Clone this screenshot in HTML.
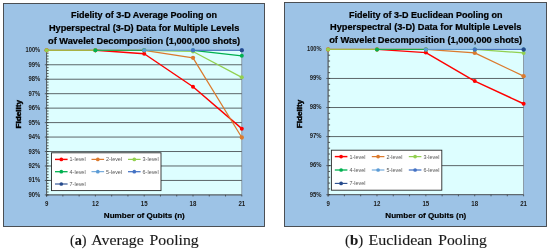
<!DOCTYPE html>
<html><head><meta charset="utf-8"><title>Fidelity charts</title>
<style>
html,body{margin:0;padding:0;background:#fff;}
svg{display:block;}
text{font-family:"Liberation Sans",sans-serif;}
svg{will-change:transform;}
.ti{font-weight:bold;font-size:8.9px;fill:#000;stroke:#000;stroke-width:0.22px;}
.at{font-weight:bold;font-size:7.7px;fill:#000;stroke:#000;stroke-width:0.18px;}
.ax{font-weight:bold;font-size:6.4px;fill:#1c1c1c;}
.lg{font-size:5.4px;fill:#555;}
.cap{font-family:"Liberation Serif",serif;font-size:14.4px;fill:#1a1a1a;stroke:#1a1a1a;stroke-width:0.12px;}
</style></head><body>
<svg width="550" height="252" viewBox="0 0 550 252">
<rect x="0" y="0" width="550" height="252" fill="#FFFFFF"/>
<rect x="3.5" y="3.5" width="261" height="223" fill="#9DC3E6" stroke="#45484c" stroke-width="0.95"/>
<rect x="46.6" y="50.3" width="195.20000000000002" height="144.60000000000002" fill="#DDFEFF" stroke="#7F8A94" stroke-width="0.8"/>
<line x1="44.800000000000004" y1="64.76" x2="241.8" y2="64.76" stroke="#4D5558" stroke-width="0.9"/>
<line x1="44.800000000000004" y1="79.22" x2="241.8" y2="79.22" stroke="#4D5558" stroke-width="0.9"/>
<line x1="44.800000000000004" y1="93.68" x2="241.8" y2="93.68" stroke="#4D5558" stroke-width="0.9"/>
<line x1="44.800000000000004" y1="108.14" x2="241.8" y2="108.14" stroke="#4D5558" stroke-width="0.9"/>
<line x1="44.800000000000004" y1="122.60" x2="241.8" y2="122.60" stroke="#4D5558" stroke-width="0.9"/>
<line x1="44.800000000000004" y1="137.06" x2="241.8" y2="137.06" stroke="#4D5558" stroke-width="0.9"/>
<line x1="44.800000000000004" y1="151.52" x2="241.8" y2="151.52" stroke="#4D5558" stroke-width="0.9"/>
<line x1="44.800000000000004" y1="165.98" x2="241.8" y2="165.98" stroke="#4D5558" stroke-width="0.9"/>
<line x1="44.800000000000004" y1="180.44" x2="241.8" y2="180.44" stroke="#4D5558" stroke-width="0.9"/>
<line x1="44.800000000000004" y1="194.90" x2="241.8" y2="194.90" stroke="#4D5558" stroke-width="0.9"/>
<line x1="46.6" y1="50.30" x2="48.6" y2="50.30" stroke="#222" stroke-width="0.75"/>
<line x1="46.6" y1="53.19" x2="48.6" y2="53.19" stroke="#222" stroke-width="0.75"/>
<line x1="46.6" y1="56.08" x2="48.6" y2="56.08" stroke="#222" stroke-width="0.75"/>
<line x1="46.6" y1="58.98" x2="48.6" y2="58.98" stroke="#222" stroke-width="0.75"/>
<line x1="46.6" y1="61.87" x2="48.6" y2="61.87" stroke="#222" stroke-width="0.75"/>
<line x1="46.6" y1="64.76" x2="48.6" y2="64.76" stroke="#222" stroke-width="0.75"/>
<line x1="46.6" y1="67.65" x2="48.6" y2="67.65" stroke="#222" stroke-width="0.75"/>
<line x1="46.6" y1="70.54" x2="48.6" y2="70.54" stroke="#222" stroke-width="0.75"/>
<line x1="46.6" y1="73.44" x2="48.6" y2="73.44" stroke="#222" stroke-width="0.75"/>
<line x1="46.6" y1="76.33" x2="48.6" y2="76.33" stroke="#222" stroke-width="0.75"/>
<line x1="46.6" y1="79.22" x2="48.6" y2="79.22" stroke="#222" stroke-width="0.75"/>
<line x1="46.6" y1="82.11" x2="48.6" y2="82.11" stroke="#222" stroke-width="0.75"/>
<line x1="46.6" y1="85.00" x2="48.6" y2="85.00" stroke="#222" stroke-width="0.75"/>
<line x1="46.6" y1="87.90" x2="48.6" y2="87.90" stroke="#222" stroke-width="0.75"/>
<line x1="46.6" y1="90.79" x2="48.6" y2="90.79" stroke="#222" stroke-width="0.75"/>
<line x1="46.6" y1="93.68" x2="48.6" y2="93.68" stroke="#222" stroke-width="0.75"/>
<line x1="46.6" y1="96.57" x2="48.6" y2="96.57" stroke="#222" stroke-width="0.75"/>
<line x1="46.6" y1="99.46" x2="48.6" y2="99.46" stroke="#222" stroke-width="0.75"/>
<line x1="46.6" y1="102.36" x2="48.6" y2="102.36" stroke="#222" stroke-width="0.75"/>
<line x1="46.6" y1="105.25" x2="48.6" y2="105.25" stroke="#222" stroke-width="0.75"/>
<line x1="46.6" y1="108.14" x2="48.6" y2="108.14" stroke="#222" stroke-width="0.75"/>
<line x1="46.6" y1="111.03" x2="48.6" y2="111.03" stroke="#222" stroke-width="0.75"/>
<line x1="46.6" y1="113.92" x2="48.6" y2="113.92" stroke="#222" stroke-width="0.75"/>
<line x1="46.6" y1="116.82" x2="48.6" y2="116.82" stroke="#222" stroke-width="0.75"/>
<line x1="46.6" y1="119.71" x2="48.6" y2="119.71" stroke="#222" stroke-width="0.75"/>
<line x1="46.6" y1="122.60" x2="48.6" y2="122.60" stroke="#222" stroke-width="0.75"/>
<line x1="46.6" y1="125.49" x2="48.6" y2="125.49" stroke="#222" stroke-width="0.75"/>
<line x1="46.6" y1="128.38" x2="48.6" y2="128.38" stroke="#222" stroke-width="0.75"/>
<line x1="46.6" y1="131.28" x2="48.6" y2="131.28" stroke="#222" stroke-width="0.75"/>
<line x1="46.6" y1="134.17" x2="48.6" y2="134.17" stroke="#222" stroke-width="0.75"/>
<line x1="46.6" y1="137.06" x2="48.6" y2="137.06" stroke="#222" stroke-width="0.75"/>
<line x1="46.6" y1="139.95" x2="48.6" y2="139.95" stroke="#222" stroke-width="0.75"/>
<line x1="46.6" y1="142.84" x2="48.6" y2="142.84" stroke="#222" stroke-width="0.75"/>
<line x1="46.6" y1="145.74" x2="48.6" y2="145.74" stroke="#222" stroke-width="0.75"/>
<line x1="46.6" y1="148.63" x2="48.6" y2="148.63" stroke="#222" stroke-width="0.75"/>
<line x1="46.6" y1="151.52" x2="48.6" y2="151.52" stroke="#222" stroke-width="0.75"/>
<line x1="46.6" y1="154.41" x2="48.6" y2="154.41" stroke="#222" stroke-width="0.75"/>
<line x1="46.6" y1="157.30" x2="48.6" y2="157.30" stroke="#222" stroke-width="0.75"/>
<line x1="46.6" y1="160.20" x2="48.6" y2="160.20" stroke="#222" stroke-width="0.75"/>
<line x1="46.6" y1="163.09" x2="48.6" y2="163.09" stroke="#222" stroke-width="0.75"/>
<line x1="46.6" y1="165.98" x2="48.6" y2="165.98" stroke="#222" stroke-width="0.75"/>
<line x1="46.6" y1="168.87" x2="48.6" y2="168.87" stroke="#222" stroke-width="0.75"/>
<line x1="46.6" y1="171.76" x2="48.6" y2="171.76" stroke="#222" stroke-width="0.75"/>
<line x1="46.6" y1="174.66" x2="48.6" y2="174.66" stroke="#222" stroke-width="0.75"/>
<line x1="46.6" y1="177.55" x2="48.6" y2="177.55" stroke="#222" stroke-width="0.75"/>
<line x1="46.6" y1="180.44" x2="48.6" y2="180.44" stroke="#222" stroke-width="0.75"/>
<line x1="46.6" y1="183.33" x2="48.6" y2="183.33" stroke="#222" stroke-width="0.75"/>
<line x1="46.6" y1="186.22" x2="48.6" y2="186.22" stroke="#222" stroke-width="0.75"/>
<line x1="46.6" y1="189.12" x2="48.6" y2="189.12" stroke="#222" stroke-width="0.75"/>
<line x1="46.6" y1="192.01" x2="48.6" y2="192.01" stroke="#222" stroke-width="0.75"/>
<line x1="46.6" y1="194.90" x2="48.6" y2="194.90" stroke="#222" stroke-width="0.75"/>
<line x1="46.6" y1="50.3" x2="46.6" y2="196.70000000000002" stroke="#4D5558" stroke-width="0.9"/>
<line x1="46.60" y1="194.9" x2="46.60" y2="196.5" stroke="#333" stroke-width="0.7"/>
<line x1="62.87" y1="194.9" x2="62.87" y2="196.5" stroke="#333" stroke-width="0.7"/>
<line x1="79.13" y1="194.9" x2="79.13" y2="196.5" stroke="#333" stroke-width="0.7"/>
<line x1="95.40" y1="194.9" x2="95.40" y2="196.5" stroke="#333" stroke-width="0.7"/>
<line x1="111.67" y1="194.9" x2="111.67" y2="196.5" stroke="#333" stroke-width="0.7"/>
<line x1="127.93" y1="194.9" x2="127.93" y2="196.5" stroke="#333" stroke-width="0.7"/>
<line x1="144.20" y1="194.9" x2="144.20" y2="196.5" stroke="#333" stroke-width="0.7"/>
<line x1="160.47" y1="194.9" x2="160.47" y2="196.5" stroke="#333" stroke-width="0.7"/>
<line x1="176.73" y1="194.9" x2="176.73" y2="196.5" stroke="#333" stroke-width="0.7"/>
<line x1="193.00" y1="194.9" x2="193.00" y2="196.5" stroke="#333" stroke-width="0.7"/>
<line x1="209.27" y1="194.9" x2="209.27" y2="196.5" stroke="#333" stroke-width="0.7"/>
<line x1="225.53" y1="194.9" x2="225.53" y2="196.5" stroke="#333" stroke-width="0.7"/>
<line x1="241.80" y1="194.9" x2="241.80" y2="196.5" stroke="#333" stroke-width="0.7"/>
<text x="40.2" y="52.30" text-anchor="end" class="ax" textLength="14.6" lengthAdjust="spacingAndGlyphs">100%</text>
<text x="40.2" y="66.76" text-anchor="end" class="ax" textLength="11.8" lengthAdjust="spacingAndGlyphs">99%</text>
<text x="40.2" y="81.22" text-anchor="end" class="ax" textLength="11.8" lengthAdjust="spacingAndGlyphs">98%</text>
<text x="40.2" y="95.68" text-anchor="end" class="ax" textLength="11.8" lengthAdjust="spacingAndGlyphs">97%</text>
<text x="40.2" y="110.14" text-anchor="end" class="ax" textLength="11.8" lengthAdjust="spacingAndGlyphs">96%</text>
<text x="40.2" y="124.60" text-anchor="end" class="ax" textLength="11.8" lengthAdjust="spacingAndGlyphs">95%</text>
<text x="40.2" y="139.06" text-anchor="end" class="ax" textLength="11.8" lengthAdjust="spacingAndGlyphs">94%</text>
<text x="40.2" y="153.52" text-anchor="end" class="ax" textLength="11.8" lengthAdjust="spacingAndGlyphs">93%</text>
<text x="40.2" y="167.98" text-anchor="end" class="ax" textLength="11.8" lengthAdjust="spacingAndGlyphs">92%</text>
<text x="40.2" y="182.44" text-anchor="end" class="ax" textLength="11.8" lengthAdjust="spacingAndGlyphs">91%</text>
<text x="40.2" y="196.90" text-anchor="end" class="ax" textLength="11.8" lengthAdjust="spacingAndGlyphs">90%</text>
<text x="46.60" y="206.3" text-anchor="middle" class="ax" textLength="3.4" lengthAdjust="spacingAndGlyphs">9</text>
<text x="95.40" y="206.3" text-anchor="middle" class="ax" textLength="6.8" lengthAdjust="spacingAndGlyphs">12</text>
<text x="144.20" y="206.3" text-anchor="middle" class="ax" textLength="6.8" lengthAdjust="spacingAndGlyphs">15</text>
<text x="193.00" y="206.3" text-anchor="middle" class="ax" textLength="6.8" lengthAdjust="spacingAndGlyphs">18</text>
<text x="241.80" y="206.3" text-anchor="middle" class="ax" textLength="6.8" lengthAdjust="spacingAndGlyphs">21</text>
<polyline points="95.40,50.30 144.20,53.77 193.00,86.74 241.80,128.67" fill="none" stroke="#FF0000" stroke-width="1.45" stroke-linejoin="round"/>
<circle cx="46.60" cy="50.30" r="2.0" fill="#FF0000"/>
<circle cx="95.40" cy="50.30" r="2.0" fill="#FF0000"/>
<circle cx="144.20" cy="53.77" r="2.0" fill="#FF0000"/>
<circle cx="193.00" cy="86.74" r="2.0" fill="#FF0000"/>
<circle cx="241.80" cy="128.67" r="2.0" fill="#FF0000"/>
<polyline points="46.60,50.30 95.40,50.30 144.20,50.30 193.00,57.82 241.80,137.49" fill="none" stroke="#DB7A2D" stroke-width="1.25" stroke-linejoin="round"/>
<circle cx="46.60" cy="50.30" r="2.15" fill="#DB7A2D"/>
<circle cx="95.40" cy="50.30" r="2.15" fill="#DB7A2D"/>
<circle cx="144.20" cy="50.30" r="2.15" fill="#DB7A2D"/>
<circle cx="193.00" cy="57.82" r="2.15" fill="#DB7A2D"/>
<circle cx="241.80" cy="137.49" r="2.15" fill="#DB7A2D"/>
<polyline points="46.60,50.30 95.40,50.30" fill="none" stroke="#92D050" stroke-width="1.0" stroke-linejoin="round"/>
<polyline points="144.20,50.30 193.00,51.46 241.80,77.34" fill="none" stroke="#92D050" stroke-width="1.25" stroke-linejoin="round"/>
<line x1="46.60" y1="50.30" x2="95.40" y2="50.30" stroke="#B5A03C" stroke-width="1.0" stroke-opacity="0.45"/>
<circle cx="46.60" cy="50.30" r="2.0" fill="#92D050"/>
<circle cx="95.40" cy="50.30" r="2.0" fill="#92D050"/>
<circle cx="144.20" cy="50.30" r="2.0" fill="#92D050"/>
<circle cx="193.00" cy="51.46" r="2.0" fill="#92D050"/>
<circle cx="241.80" cy="77.34" r="2.0" fill="#92D050"/>
<polyline points="95.40,50.30 144.20,50.30" fill="none" stroke="#00B050" stroke-width="1.0" stroke-linejoin="round"/>
<polyline points="193.00,50.30 241.80,55.79" fill="none" stroke="#00B050" stroke-width="1.3" stroke-linejoin="round"/>
<circle cx="95.40" cy="50.30" r="2.0" fill="#00B050"/>
<circle cx="144.20" cy="50.30" r="2.0" fill="#00B050"/>
<circle cx="193.00" cy="50.30" r="2.0" fill="#00B050"/>
<circle cx="241.80" cy="55.79" r="2.0" fill="#00B050"/>
<polyline points="144.20,50.30 193.00,50.30" fill="none" stroke="#5B9BD5" stroke-width="1.0" stroke-linejoin="round"/>
<circle cx="144.20" cy="50.30" r="2.0" fill="#5B9BD5"/>
<circle cx="193.00" cy="50.30" r="2.0" fill="#5B9BD5"/>
<circle cx="241.80" cy="50.30" r="2.0" fill="#5B9BD5"/>
<polyline points="193.00,50.30 241.80,50.30" fill="none" stroke="#4472C4" stroke-width="1.0" stroke-linejoin="round"/>
<circle cx="193.00" cy="50.30" r="2.0" fill="#4472C4"/>
<circle cx="241.80" cy="50.30" r="2.0" fill="#4472C4"/>
<circle cx="241.80" cy="50.30" r="2.0" fill="#264A8C"/>
<text x="144.1" y="18.2" text-anchor="middle" class="ti" textLength="146" lengthAdjust="spacingAndGlyphs">Fidelity of 3-D Average Pooling on</text>
<text x="144.1" y="31.0" text-anchor="middle" class="ti" textLength="190.4" lengthAdjust="spacingAndGlyphs">Hyperspectral (3-D) Data for Multiple Levels</text>
<text x="144.1" y="43.9" text-anchor="middle" class="ti" textLength="192" lengthAdjust="spacingAndGlyphs">of Wavelet Decomposition (1,000,000 shots)</text>
<text x="144.3" y="218.0" text-anchor="middle" class="at" textLength="81" lengthAdjust="spacingAndGlyphs">Number of Qubits (n)</text>
<text transform="translate(20.5,114.2) rotate(-90)" text-anchor="middle" class="at" style="stroke-width:0.4px" textLength="28.6" lengthAdjust="spacingAndGlyphs">Fidelity</text>
<rect x="51.5" y="152.8" width="109.5" height="37.79999999999998" fill="#FFFFFF" stroke="#2A2A2A" stroke-width="0.9"/>
<line x1="55.0" y1="159.4" x2="67.6" y2="159.4" stroke="#FF0000" stroke-width="1.45"/>
<circle cx="61.3" cy="159.4" r="1.85" fill="#FF0000"/>
<text x="69.6" y="161.3" class="lg" textLength="16" lengthAdjust="spacingAndGlyphs">1-level</text>
<line x1="91.5" y1="159.4" x2="104.1" y2="159.4" stroke="#DB7A2D" stroke-width="1.25"/>
<circle cx="97.8" cy="159.4" r="1.85" fill="#DB7A2D"/>
<text x="106.1" y="161.3" class="lg" textLength="16" lengthAdjust="spacingAndGlyphs">2-level</text>
<line x1="128.0" y1="159.4" x2="140.6" y2="159.4" stroke="#92D050" stroke-width="1.25"/>
<circle cx="134.3" cy="159.4" r="1.85" fill="#92D050"/>
<text x="142.6" y="161.3" class="lg" textLength="16" lengthAdjust="spacingAndGlyphs">3-level</text>
<line x1="55.0" y1="171.7" x2="67.6" y2="171.7" stroke="#00B050" stroke-width="1.3"/>
<circle cx="61.3" cy="171.7" r="1.85" fill="#00B050"/>
<text x="69.6" y="173.6" class="lg" textLength="16" lengthAdjust="spacingAndGlyphs">4-level</text>
<line x1="91.5" y1="171.7" x2="104.1" y2="171.7" stroke="#5B9BD5" stroke-width="1.0"/>
<circle cx="97.8" cy="171.7" r="1.85" fill="#5B9BD5"/>
<text x="106.1" y="173.6" class="lg" textLength="16" lengthAdjust="spacingAndGlyphs">5-level</text>
<line x1="128.0" y1="171.7" x2="140.6" y2="171.7" stroke="#4472C4" stroke-width="1.25"/>
<circle cx="134.3" cy="171.7" r="1.85" fill="#4472C4"/>
<text x="142.6" y="173.6" class="lg" textLength="16" lengthAdjust="spacingAndGlyphs">6-level</text>
<line x1="55.0" y1="184" x2="67.6" y2="184" stroke="#264A8C" stroke-width="1.1"/>
<circle cx="61.3" cy="184" r="1.85" fill="#264A8C"/>
<text x="69.6" y="185.9" class="lg" textLength="16" lengthAdjust="spacingAndGlyphs">7-level</text>
<rect x="284.5" y="2.5" width="262" height="224" fill="#9DC3E6" stroke="#45484c" stroke-width="0.95"/>
<rect x="328.1" y="49.4" width="195.5" height="145.29999999999998" fill="#DDFEFF" stroke="#7F8A94" stroke-width="0.8"/>
<line x1="326.3" y1="78.46" x2="523.6" y2="78.46" stroke="#4D5558" stroke-width="0.9"/>
<line x1="326.3" y1="107.52" x2="523.6" y2="107.52" stroke="#4D5558" stroke-width="0.9"/>
<line x1="326.3" y1="136.58" x2="523.6" y2="136.58" stroke="#4D5558" stroke-width="0.9"/>
<line x1="326.3" y1="165.64" x2="523.6" y2="165.64" stroke="#4D5558" stroke-width="0.9"/>
<line x1="326.3" y1="194.70" x2="523.6" y2="194.70" stroke="#4D5558" stroke-width="0.9"/>
<line x1="328.1" y1="49.40" x2="330.1" y2="49.40" stroke="#222" stroke-width="0.75"/>
<line x1="328.1" y1="55.21" x2="330.1" y2="55.21" stroke="#222" stroke-width="0.75"/>
<line x1="328.1" y1="61.02" x2="330.1" y2="61.02" stroke="#222" stroke-width="0.75"/>
<line x1="328.1" y1="66.84" x2="330.1" y2="66.84" stroke="#222" stroke-width="0.75"/>
<line x1="328.1" y1="72.65" x2="330.1" y2="72.65" stroke="#222" stroke-width="0.75"/>
<line x1="328.1" y1="78.46" x2="330.1" y2="78.46" stroke="#222" stroke-width="0.75"/>
<line x1="328.1" y1="84.27" x2="330.1" y2="84.27" stroke="#222" stroke-width="0.75"/>
<line x1="328.1" y1="90.08" x2="330.1" y2="90.08" stroke="#222" stroke-width="0.75"/>
<line x1="328.1" y1="95.90" x2="330.1" y2="95.90" stroke="#222" stroke-width="0.75"/>
<line x1="328.1" y1="101.71" x2="330.1" y2="101.71" stroke="#222" stroke-width="0.75"/>
<line x1="328.1" y1="107.52" x2="330.1" y2="107.52" stroke="#222" stroke-width="0.75"/>
<line x1="328.1" y1="113.33" x2="330.1" y2="113.33" stroke="#222" stroke-width="0.75"/>
<line x1="328.1" y1="119.14" x2="330.1" y2="119.14" stroke="#222" stroke-width="0.75"/>
<line x1="328.1" y1="124.96" x2="330.1" y2="124.96" stroke="#222" stroke-width="0.75"/>
<line x1="328.1" y1="130.77" x2="330.1" y2="130.77" stroke="#222" stroke-width="0.75"/>
<line x1="328.1" y1="136.58" x2="330.1" y2="136.58" stroke="#222" stroke-width="0.75"/>
<line x1="328.1" y1="142.39" x2="330.1" y2="142.39" stroke="#222" stroke-width="0.75"/>
<line x1="328.1" y1="148.20" x2="330.1" y2="148.20" stroke="#222" stroke-width="0.75"/>
<line x1="328.1" y1="154.02" x2="330.1" y2="154.02" stroke="#222" stroke-width="0.75"/>
<line x1="328.1" y1="159.83" x2="330.1" y2="159.83" stroke="#222" stroke-width="0.75"/>
<line x1="328.1" y1="165.64" x2="330.1" y2="165.64" stroke="#222" stroke-width="0.75"/>
<line x1="328.1" y1="171.45" x2="330.1" y2="171.45" stroke="#222" stroke-width="0.75"/>
<line x1="328.1" y1="177.26" x2="330.1" y2="177.26" stroke="#222" stroke-width="0.75"/>
<line x1="328.1" y1="183.08" x2="330.1" y2="183.08" stroke="#222" stroke-width="0.75"/>
<line x1="328.1" y1="188.89" x2="330.1" y2="188.89" stroke="#222" stroke-width="0.75"/>
<line x1="328.1" y1="194.70" x2="330.1" y2="194.70" stroke="#222" stroke-width="0.75"/>
<line x1="328.1" y1="49.4" x2="328.1" y2="196.5" stroke="#4D5558" stroke-width="0.9"/>
<line x1="328.10" y1="194.7" x2="328.10" y2="196.29999999999998" stroke="#333" stroke-width="0.7"/>
<line x1="344.39" y1="194.7" x2="344.39" y2="196.29999999999998" stroke="#333" stroke-width="0.7"/>
<line x1="360.68" y1="194.7" x2="360.68" y2="196.29999999999998" stroke="#333" stroke-width="0.7"/>
<line x1="376.98" y1="194.7" x2="376.98" y2="196.29999999999998" stroke="#333" stroke-width="0.7"/>
<line x1="393.27" y1="194.7" x2="393.27" y2="196.29999999999998" stroke="#333" stroke-width="0.7"/>
<line x1="409.56" y1="194.7" x2="409.56" y2="196.29999999999998" stroke="#333" stroke-width="0.7"/>
<line x1="425.85" y1="194.7" x2="425.85" y2="196.29999999999998" stroke="#333" stroke-width="0.7"/>
<line x1="442.14" y1="194.7" x2="442.14" y2="196.29999999999998" stroke="#333" stroke-width="0.7"/>
<line x1="458.43" y1="194.7" x2="458.43" y2="196.29999999999998" stroke="#333" stroke-width="0.7"/>
<line x1="474.73" y1="194.7" x2="474.73" y2="196.29999999999998" stroke="#333" stroke-width="0.7"/>
<line x1="491.02" y1="194.7" x2="491.02" y2="196.29999999999998" stroke="#333" stroke-width="0.7"/>
<line x1="507.31" y1="194.7" x2="507.31" y2="196.29999999999998" stroke="#333" stroke-width="0.7"/>
<line x1="523.60" y1="194.7" x2="523.60" y2="196.29999999999998" stroke="#333" stroke-width="0.7"/>
<text x="321.6" y="51.25" text-anchor="end" class="ax" textLength="14.6" lengthAdjust="spacingAndGlyphs">100%</text>
<text x="321.6" y="80.31" text-anchor="end" class="ax" textLength="11.8" lengthAdjust="spacingAndGlyphs">99%</text>
<text x="321.6" y="109.37" text-anchor="end" class="ax" textLength="11.8" lengthAdjust="spacingAndGlyphs">98%</text>
<text x="321.6" y="138.43" text-anchor="end" class="ax" textLength="11.8" lengthAdjust="spacingAndGlyphs">97%</text>
<text x="321.6" y="167.49" text-anchor="end" class="ax" textLength="11.8" lengthAdjust="spacingAndGlyphs">96%</text>
<text x="321.6" y="196.55" text-anchor="end" class="ax" textLength="11.8" lengthAdjust="spacingAndGlyphs">95%</text>
<text x="328.10" y="206.1" text-anchor="middle" class="ax" textLength="3.4" lengthAdjust="spacingAndGlyphs">9</text>
<text x="376.98" y="206.1" text-anchor="middle" class="ax" textLength="6.8" lengthAdjust="spacingAndGlyphs">12</text>
<text x="425.85" y="206.1" text-anchor="middle" class="ax" textLength="6.8" lengthAdjust="spacingAndGlyphs">15</text>
<text x="474.73" y="206.1" text-anchor="middle" class="ax" textLength="6.8" lengthAdjust="spacingAndGlyphs">18</text>
<text x="523.60" y="206.1" text-anchor="middle" class="ax" textLength="6.8" lengthAdjust="spacingAndGlyphs">21</text>
<polyline points="376.98,49.40 425.85,52.60 474.73,81.08 523.60,103.74" fill="none" stroke="#FF0000" stroke-width="1.45" stroke-linejoin="round"/>
<circle cx="328.10" cy="49.40" r="2.0" fill="#FF0000"/>
<circle cx="376.98" cy="49.40" r="2.0" fill="#FF0000"/>
<circle cx="425.85" cy="52.60" r="2.0" fill="#FF0000"/>
<circle cx="474.73" cy="81.08" r="2.0" fill="#FF0000"/>
<circle cx="523.60" cy="103.74" r="2.0" fill="#FF0000"/>
<polyline points="328.10,49.40 376.98,49.40 425.85,49.40 474.73,52.89 523.60,76.14" fill="none" stroke="#DB7A2D" stroke-width="1.25" stroke-linejoin="round"/>
<circle cx="328.10" cy="49.40" r="2.15" fill="#DB7A2D"/>
<circle cx="376.98" cy="49.40" r="2.15" fill="#DB7A2D"/>
<circle cx="425.85" cy="49.40" r="2.15" fill="#DB7A2D"/>
<circle cx="474.73" cy="52.89" r="2.15" fill="#DB7A2D"/>
<circle cx="523.60" cy="76.14" r="2.15" fill="#DB7A2D"/>
<polyline points="328.10,49.40 376.98,49.40" fill="none" stroke="#92D050" stroke-width="1.0" stroke-linejoin="round"/>
<polyline points="474.73,49.40 523.60,52.89" fill="none" stroke="#92D050" stroke-width="1.25" stroke-linejoin="round"/>
<line x1="328.10" y1="49.40" x2="376.98" y2="49.40" stroke="#B5A03C" stroke-width="1.0" stroke-opacity="0.45"/>
<circle cx="328.10" cy="49.40" r="2.0" fill="#92D050"/>
<circle cx="376.98" cy="49.40" r="2.0" fill="#92D050"/>
<circle cx="425.85" cy="49.40" r="2.0" fill="#92D050"/>
<circle cx="474.73" cy="49.40" r="2.0" fill="#92D050"/>
<circle cx="523.60" cy="52.89" r="2.0" fill="#92D050"/>
<polyline points="376.98,49.40 425.85,49.40" fill="none" stroke="#00B050" stroke-width="1.0" stroke-linejoin="round"/>
<circle cx="376.98" cy="49.40" r="2.0" fill="#00B050"/>
<circle cx="425.85" cy="49.40" r="2.0" fill="#00B050"/>
<circle cx="474.73" cy="49.40" r="2.0" fill="#00B050"/>
<circle cx="523.60" cy="49.40" r="2.0" fill="#00B050"/>
<polyline points="425.85,49.40 474.73,49.40" fill="none" stroke="#5B9BD5" stroke-width="1.0" stroke-linejoin="round"/>
<circle cx="425.85" cy="49.40" r="2.0" fill="#5B9BD5"/>
<circle cx="474.73" cy="49.40" r="2.0" fill="#5B9BD5"/>
<circle cx="523.60" cy="49.40" r="2.0" fill="#5B9BD5"/>
<polyline points="474.73,49.40 523.60,49.40" fill="none" stroke="#4472C4" stroke-width="1.0" stroke-linejoin="round"/>
<circle cx="474.73" cy="49.40" r="2.0" fill="#4472C4"/>
<circle cx="523.60" cy="49.40" r="2.0" fill="#4472C4"/>
<circle cx="523.60" cy="49.40" r="2.0" fill="#264A8C"/>
<text x="425.7" y="17.8" text-anchor="middle" class="ti" textLength="153.6" lengthAdjust="spacingAndGlyphs">Fidelity of 3-D Euclidean Pooling on</text>
<text x="425.7" y="30.4" text-anchor="middle" class="ti" textLength="191.4" lengthAdjust="spacingAndGlyphs">Hyperspectral (3-D) Data for Multiple Levels</text>
<text x="425.7" y="43.1" text-anchor="middle" class="ti" textLength="193" lengthAdjust="spacingAndGlyphs">of Wavelet Decomposition (1,000,000 shots)</text>
<text x="425.8" y="218.0" text-anchor="middle" class="at" textLength="81" lengthAdjust="spacingAndGlyphs">Number of Qubits (n)</text>
<text transform="translate(301.5,114) rotate(-90)" text-anchor="middle" class="at" style="stroke-width:0.4px" textLength="28.6" lengthAdjust="spacingAndGlyphs">Fidelity</text>
<rect x="331.4" y="150.2" width="110.40000000000003" height="40.0" fill="#FFFFFF" stroke="#2A2A2A" stroke-width="0.9"/>
<line x1="334.8" y1="156.6" x2="347.40000000000003" y2="156.6" stroke="#FF0000" stroke-width="1.45"/>
<circle cx="341.1" cy="156.6" r="1.85" fill="#FF0000"/>
<text x="349.40000000000003" y="158.5" class="lg" textLength="16" lengthAdjust="spacingAndGlyphs">1-level</text>
<line x1="371.8" y1="156.6" x2="384.40000000000003" y2="156.6" stroke="#DB7A2D" stroke-width="1.25"/>
<circle cx="378.1" cy="156.6" r="1.85" fill="#DB7A2D"/>
<text x="386.40000000000003" y="158.5" class="lg" textLength="16" lengthAdjust="spacingAndGlyphs">2-level</text>
<line x1="408.8" y1="156.6" x2="421.40000000000003" y2="156.6" stroke="#92D050" stroke-width="1.25"/>
<circle cx="415.1" cy="156.6" r="1.85" fill="#92D050"/>
<text x="423.40000000000003" y="158.5" class="lg" textLength="16" lengthAdjust="spacingAndGlyphs">3-level</text>
<line x1="334.8" y1="170" x2="347.40000000000003" y2="170" stroke="#00B050" stroke-width="1.3"/>
<circle cx="341.1" cy="170" r="1.85" fill="#00B050"/>
<text x="349.40000000000003" y="171.9" class="lg" textLength="16" lengthAdjust="spacingAndGlyphs">4-level</text>
<line x1="371.8" y1="170" x2="384.40000000000003" y2="170" stroke="#5B9BD5" stroke-width="1.0"/>
<circle cx="378.1" cy="170" r="1.85" fill="#5B9BD5"/>
<text x="386.40000000000003" y="171.9" class="lg" textLength="16" lengthAdjust="spacingAndGlyphs">5-level</text>
<line x1="408.8" y1="170" x2="421.40000000000003" y2="170" stroke="#4472C4" stroke-width="1.25"/>
<circle cx="415.1" cy="170" r="1.85" fill="#4472C4"/>
<text x="423.40000000000003" y="171.9" class="lg" textLength="16" lengthAdjust="spacingAndGlyphs">6-level</text>
<line x1="334.8" y1="183.4" x2="347.40000000000003" y2="183.4" stroke="#264A8C" stroke-width="1.1"/>
<circle cx="341.1" cy="183.4" r="1.85" fill="#264A8C"/>
<text x="349.40000000000003" y="185.3" class="lg" textLength="16" lengthAdjust="spacingAndGlyphs">7-level</text>
<text x="69.9" y="245.2" class="cap" textLength="16.7" lengthAdjust="spacingAndGlyphs">(<tspan font-weight="bold">a</tspan>)</text>
<text x="91.2" y="245.2" class="cap" textLength="52.6" lengthAdjust="spacingAndGlyphs">Average</text>
<text x="149.6" y="245.2" class="cap" textLength="49.1" lengthAdjust="spacingAndGlyphs">Pooling</text>
<text x="345.1" y="245.2" class="cap" textLength="18.2" lengthAdjust="spacingAndGlyphs">(<tspan font-weight="bold">b</tspan>)</text>
<text x="368.4" y="245.2" class="cap" textLength="64" lengthAdjust="spacingAndGlyphs">Euclidean</text>
<text x="438.2" y="245.2" class="cap" textLength="48.7" lengthAdjust="spacingAndGlyphs">Pooling</text>
</svg>
</body></html>
